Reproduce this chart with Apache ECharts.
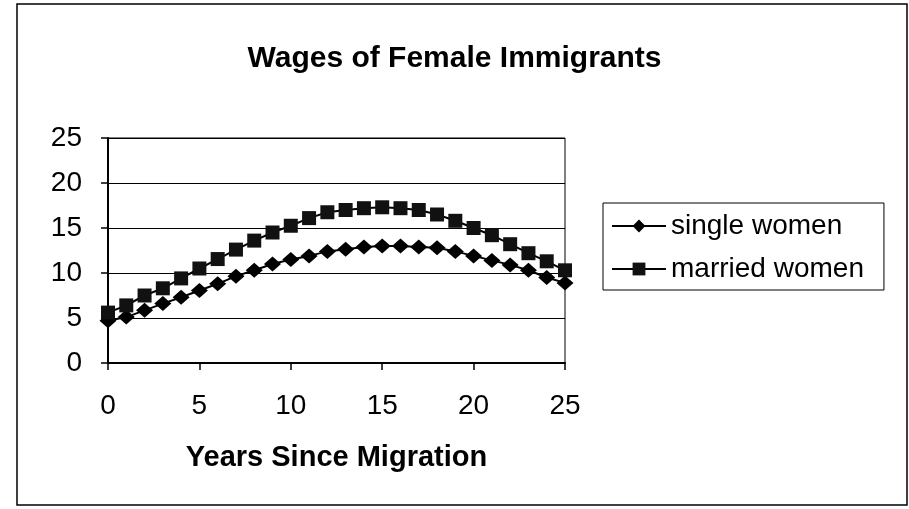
<!DOCTYPE html>
<html>
<head>
<meta charset="utf-8">
<script src="https://cdn.jsdelivr.net/npm/echarts@6/dist/echarts.min.js"></script>
<style>
  html, body { margin: 0; padding: 0; background: #fff; }
  #chart { width: 909px; height: 509px; }
</style>
</head>
<body>
<div id="chart"></div>
<script>
// data
const years = [0, 1, 2, 3, 4, 5, 6, 7, 8, 9, 10, 11, 12, 13, 14, 15, 16, 17, 18, 19, 20, 21, 22, 23, 24, 25];
const singleWomen = [4.7, 5.1, 5.85, 6.6, 7.3, 8.05, 8.8, 9.65, 10.3, 11.0, 11.5, 11.9, 12.4, 12.65, 12.9, 13.0, 13.0, 12.9, 12.8, 12.4, 11.9, 11.4, 10.9, 10.3, 9.5, 8.9];
const marriedWomen = [5.6, 6.4, 7.5, 8.3, 9.4, 10.5, 11.55, 12.6, 13.6, 14.5, 15.25, 16.1, 16.75, 17.0, 17.2, 17.3, 17.2, 17.0, 16.5, 15.8, 15.0, 14.2, 13.2, 12.2, 11.3, 10.3];
const seriesNames = ["single women", "married women"];

const font = "'Liberation Sans', Arial, sans-serif";

const chart = echarts.init(document.getElementById("chart"));

// pair each year with its value
const toPoints = (vals) => years.map((y, i) => [y, vals[i]]);

chart.setOption({
  animation: false,
  backgroundColor: "#fff",
  title: {
    text: "Wages of Female Immigrants",
    left: "center",
    top: 44,
    padding: 0,
    textStyle: { fontFamily: font, fontSize: 30, fontWeight: "bold", color: "#000" }
  },
  // outer chart border
  graphic: [{
    type: "rect",
    shape: { x: 17, y: 4, width: 890, height: 501 },
    style: { fill: "none", stroke: "#000", lineWidth: 1.5 },
    silent: true
  }],
  grid: {
    left: 108, right: 344, top: 138, bottom: 146,
    show: true, borderColor: "#000", borderWidth: 1
  },
  legend: {
    orient: "vertical",
    left: 603, top: 203,
    padding: [8, 20, 6, 8],
    itemGap: 13,
    itemWidth: 54,
    itemHeight: 16,
    borderColor: "#000",
    borderWidth: 1,
    textStyle: { fontFamily: font, fontSize: 28, color: "#000", lineHeight: 30 },
    data: seriesNames
  },
  xAxis: {
    type: "value",
    min: 0, max: 25, interval: 5,
    name: "Years Since Migration",
    nameLocation: "middle",
    nameGap: 80,
    nameTextStyle: { fontFamily: font, fontSize: 29, fontWeight: "bold", color: "#000" },
    axisLine: { lineStyle: { color: "#000", width: 2 } },
    axisTick: { length: 7, lineStyle: { color: "#000", width: 1.5 } },
    axisLabel: { fontFamily: font, fontSize: 28, color: "#000", margin: 29 },
    splitLine: { show: false }
  },
  yAxis: {
    type: "value",
    min: 0, max: 25, interval: 5,
    axisLine: { show: true, lineStyle: { color: "#000", width: 2 } },
    axisTick: { show: true, length: 7, lineStyle: { color: "#000", width: 1.5 } },
    axisLabel: { fontFamily: font, fontSize: 28, color: "#000", margin: 26 },
    splitLine: { lineStyle: { color: "#000", width: 1 } }
  },
  series: [
    {
      name: seriesNames[0],
      type: "line",
      data: toPoints(singleWomen),
      symbol: "diamond",
      symbolSize: [17, 15],
      lineStyle: { color: "#000", width: 2 },
      itemStyle: { color: "#000" }
    },
    {
      name: seriesNames[1],
      type: "line",
      data: toPoints(marriedWomen),
      symbol: "rect",
      symbolSize: 14,
      lineStyle: { color: "#000", width: 2 },
      itemStyle: { color: "#111" }
    }
  ]
});
</script>
</body>
</html>
